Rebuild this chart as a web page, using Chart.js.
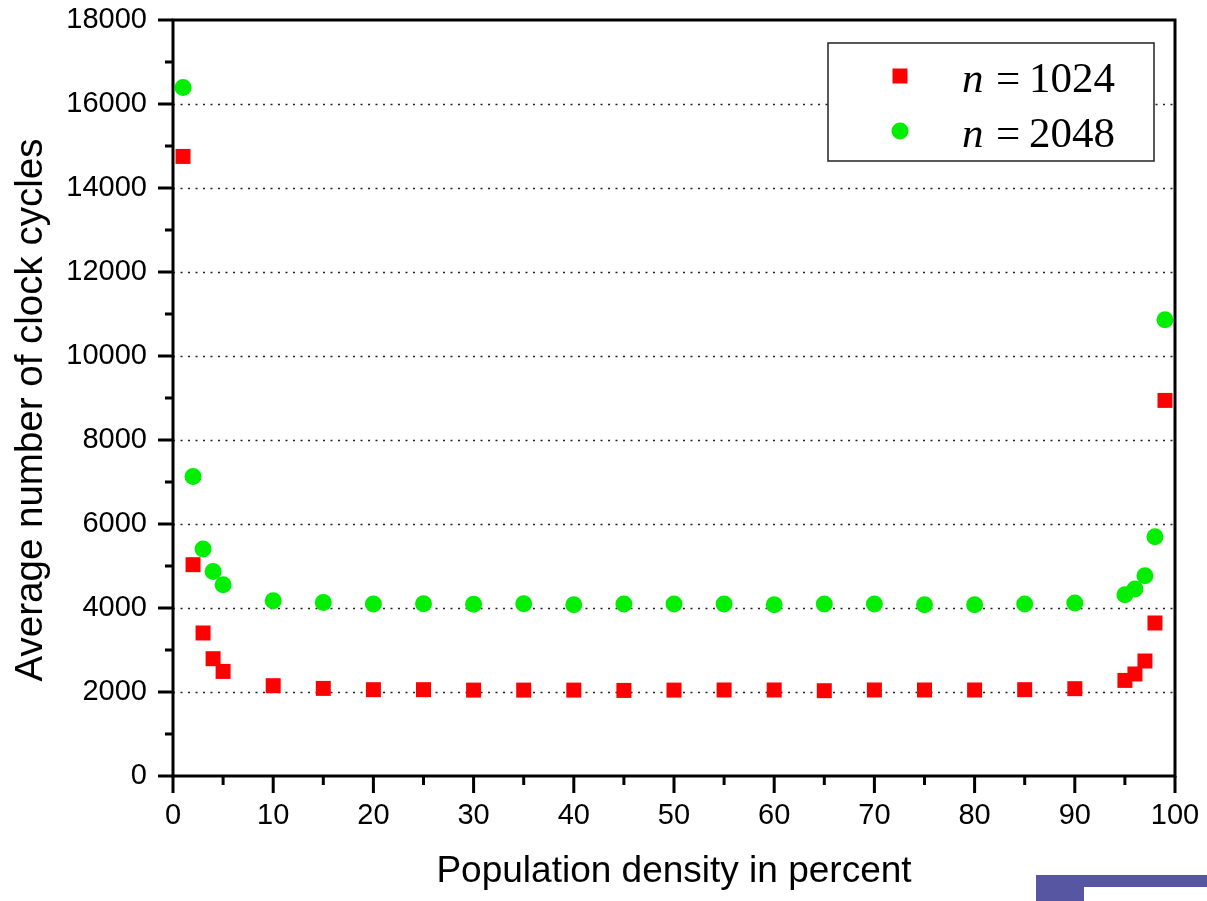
<!DOCTYPE html>
<html><head><meta charset="utf-8">
<script src="https://cdn.jsdelivr.net/npm/chart.js@4.4.1/dist/chart.umd.min.js"></script>
<style>
html,body{margin:0;padding:0;background:#fff;width:1207px;height:901px;overflow:hidden}
#wrap{position:relative;width:1207px;height:901px}
canvas{position:absolute;left:0;top:0}
.deco1{position:absolute;left:1036px;top:875px;width:48px;height:26px;background:#5656a2}
.deco2{position:absolute;left:1084px;top:875px;width:123px;height:12px;background:#5656a2}
</style></head><body>
<div id="wrap"><canvas id="c" width="1207" height="901"></canvas><div class="deco1"></div><div class="deco2"></div></div>
<script>
const density = [1,2,3,4,5,10,15,20,25,30,35,40,45,50,55,60,65,70,75,80,85,90,95,96,97,98,99];
const cycles1024 = [14752,5031,3405,2793,2490,2150,2086,2055,2055,2045,2045,2045,2038,2045,2048,2048,2031,2048,2048,2048,2055,2079,2276,2429,2738,3643,8943];
const cycles2048 = [16395,7133,5405,4871,4555,4174,4133,4095,4102,4087,4102,4079,4095,4095,4095,4079,4095,4095,4079,4079,4095,4119,4317,4452,4769,5698,10864];
const seriesN = ['1024','2048'];
const xTickValues = [0,10,20,30,40,50,60,70,80,90,100];
const xMinorTicks = [5,15,25,35,45,55,65,75,85,95];
const yTickValues = [0,2000,4000,6000,8000,10000,12000,14000,16000,18000];
const yMinorTicks = [1000,3000,5000,7000,9000,11000,13000,15000,17000];
const yGridValues = [2000,4000,6000,8000,10000,12000,14000,16000];
const xTitle = 'Population density in percent';
const yTitle = 'Average number of clock cycles';

const toPts = (xs, ys) => xs.map((x, i) => ({x: x, y: ys[i]}));

const decor = {
  id: 'decor',
  beforeDatasetsDraw(chart) {
    const ctx = chart.ctx, a = chart.chartArea, y = chart.scales.y;
    ctx.save();
    ctx.strokeStyle = '#222';
    ctx.lineWidth = 1.6;
    ctx.setLineDash([2, 5.5]);
    yGridValues.forEach(v => {
      const py = Math.round(y.getPixelForValue(v)) + 0.5;
      ctx.beginPath(); ctx.moveTo(a.left, py); ctx.lineTo(a.right, py); ctx.stroke();
    });
    ctx.restore();
  },
  afterDatasetsDraw(chart) {
    const ctx = chart.ctx, a = chart.chartArea, xs = chart.scales.x, ys = chart.scales.y;
    ctx.save();
    ctx.strokeStyle = '#000';
    ctx.lineWidth = 3;
    ctx.setLineDash([]);
    ctx.strokeRect(a.left, a.top, a.right - a.left, a.bottom - a.top);
    ctx.lineWidth = 3;
    ctx.beginPath();
    yTickValues.forEach(v => { const py = ys.getPixelForValue(v); ctx.moveTo(a.left - 15, py); ctx.lineTo(a.left, py); });
    yMinorTicks.forEach(v => { const py = ys.getPixelForValue(v); ctx.moveTo(a.left - 8, py); ctx.lineTo(a.left, py); });
    xTickValues.forEach(v => { const px = xs.getPixelForValue(v); ctx.moveTo(px, a.bottom); ctx.lineTo(px, a.bottom + 17); });
    xMinorTicks.forEach(v => { const px = xs.getPixelForValue(v); ctx.moveTo(px, a.bottom); ctx.lineTo(px, a.bottom + 9); });
    ctx.stroke();

    // axis titles
    ctx.fillStyle = '#000';
    ctx.font = '37px "Liberation Sans", Arial, sans-serif';
    ctx.textAlign = 'center';
    ctx.textBaseline = 'alphabetic';
    ctx.fillText(xTitle, (a.left + a.right) / 2, 882);
    ctx.save();
    ctx.font = '38.5px "Liberation Sans", Arial, sans-serif';
    ctx.translate(42, 410);
    ctx.rotate(-Math.PI / 2);
    ctx.fillText(yTitle, 0, 0);
    ctx.restore();

    // legend
    const lx = 828, ly = 43, lw = 326, lh = 118;
    ctx.fillStyle = '#fff';
    ctx.fillRect(lx, ly, lw, lh);
    ctx.strokeStyle = '#222';
    ctx.lineWidth = 1.5;
    ctx.strokeRect(lx, ly, lw, lh);
    const ds = chart.data.datasets;
    const rows = [76, 131];
    ds.forEach((d, i) => {
      const cy = rows[i];
      ctx.fillStyle = d.backgroundColor;
      ctx.beginPath();
      if (d.pointStyle === 'rect') ctx.rect(900 - 7.5, cy - 7.5, 15, 15);
      else ctx.arc(900, cy, 8.5, 0, Math.PI * 2);
      ctx.fill();
      ctx.fillStyle = '#000';
      ctx.textAlign = 'left';
      ctx.textBaseline = 'alphabetic';
      ctx.font = 'italic 43px "Liberation Serif", "Times New Roman", serif';
      const base = cy + 16;
      ctx.fillText('n', 962, base);
      ctx.font = '43px "Liberation Serif", "Times New Roman", serif';
      ctx.fillText('=', 996, base);
      ctx.fillText(seriesN[i], 1029, base);
    });
    ctx.restore();
  }
};

new Chart(document.getElementById('c'), {
  type: 'scatter',
  data: {
    datasets: [
      { label: 'n = ' + seriesN[0], data: toPts(density, cycles1024), pointStyle: 'rect', pointRadius: 10.6, pointHoverRadius: 10.6, backgroundColor: '#ff0000', borderWidth: 0 },
      { label: 'n = ' + seriesN[1], data: toPts(density, cycles2048), pointStyle: 'circle', pointRadius: 8.5, pointHoverRadius: 8.5, backgroundColor: '#00ee00', borderWidth: 0 }
    ]
  },
  options: {
    responsive: false,
    devicePixelRatio: 1,
    animation: false,
    events: [],
    clip: false,
    layout: { padding: { top: 20, right: 32, left: 0, bottom: 0 } },
    plugins: { legend: { display: false }, tooltip: { enabled: false }, title: { display: false } },
    scales: {
      x: {
        type: 'linear', min: 0, max: 100,
        afterBuildTicks: s => { s.ticks = xTickValues.map(v => ({value: v})); },
        afterFit: s => { s.height = 125; s.paddingLeft = 0; s.paddingRight = 0; },
        grid: { display: true, drawOnChartArea: false, drawTicks: true, tickLength: 17, color: 'rgba(0,0,0,0)', tickColor: 'rgba(0,0,0,0)' },
        border: { display: false },
        ticks: { color: '#000', font: { family: '"Liberation Sans", Arial, sans-serif', size: 29 }, padding: 6, maxRotation: 0, autoSkip: false, callback: v => String(v) }
      },
      y: {
        type: 'linear', min: 0, max: 18000,
        afterBuildTicks: s => { s.ticks = yTickValues.map(v => ({value: v})); },
        afterFit: s => { s.width = 173; s.paddingTop = 0; s.paddingBottom = 0; },
        grid: { display: true, drawOnChartArea: false, drawTicks: true, tickLength: 15, color: 'rgba(0,0,0,0)', tickColor: 'rgba(0,0,0,0)' },
        border: { display: false },
        ticks: { color: '#000', font: { family: '"Liberation Sans", Arial, sans-serif', size: 29 }, padding: 11, autoSkip: false, callback: v => String(v) }
      }
    }
  },
  plugins: [decor]
});
</script>
</body></html>
